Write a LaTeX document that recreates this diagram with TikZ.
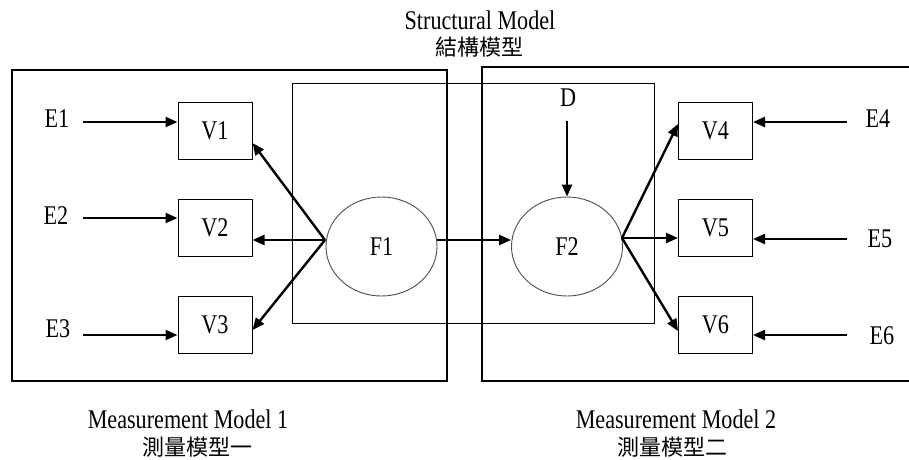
\documentclass[tikz,border=0pt]{standalone}
\usepackage{fontspec}
\setmainfont{Liberation Serif}[FakeStretch=0.82]
\newfontfamily\cjk{Noto Sans CJK TC}
\usetikzlibrary{arrows.meta,shapes.geometric}
\begin{document}
\begin{tikzpicture}[x=1pt,y=-1pt,
  lbl/.style={font=\fontsize{27}{30}\selectfont, inner sep=0pt},
  cjklbl/.style={font=\cjk\fontsize{22}{25}\selectfont, inner sep=0pt},
  vbox/.style={draw, line width=1pt, minimum width=74pt, minimum height=57pt, inner sep=0pt, font=\fontsize{27}{30}\selectfont},
  latent/.style={draw=black!70, line width=0.9pt, ellipse, minimum width=111pt, minimum height=99pt, inner sep=0pt, font=\fontsize{27}{30}\selectfont},
  arr/.style={line width=2.4pt, -{Triangle[length=12pt,width=10pt]}},
  frame/.style={line width=2.8pt},
  thinframe/.style={line width=1pt}]
\useasboundingbox (0,0) rectangle (909,459);
% frames
\draw[frame] (12,70) rectangle (447,381);
\draw[frame] (912,67) -- (482,67) -- (482,381) -- (912,381);
\draw[thinframe] (292,83) rectangle (654,323);
% titles
\node[lbl] (st) at (480,20) {Structural Model};
\node[cjklbl] (stc) at (479,47) {結構模型};
\node[lbl] (m1) at (188,419) {Measurement Model 1};
\node[cjklbl] (m1c) at (197,447) {測量模型一};
\node[lbl] (m2) at (676,419) {Measurement Model 2};
\node[cjklbl] (m2c) at (672,447) {測量模型二};
% observed variables
\node[vbox] (V1) at (215,130.5) {V1};
\node[vbox] (V2) at (215,228) {V2};
\node[vbox] (V3) at (215,325) {V3};
\node[vbox] (V4) at (715.5,130.5) {V4};
\node[vbox] (V5) at (715.5,228) {V5};
\node[vbox] (V6) at (715.5,325) {V6};
% latent
\node[latent] (F1) at (381.5,246.5) {F1};
\node[latent] (F2) at (567,246.5) {F2};
% error labels
\node[lbl] (E1) at (57,119) {E1};
\node[lbl] (E2) at (56,216) {E2};
\node[lbl] (E3) at (58,329) {E3};
\node[lbl] (E4) at (878,119) {E4};
\node[lbl] (E5) at (880,239) {E5};
\node[lbl] (E6) at (882,336) {E6};
\node[lbl] (D) at (568,98) {D};
% arrow start points
\coordinate (e1s) at (83,122);
\coordinate (e2s) at (83,218);
\coordinate (e3s) at (83,335);
\coordinate (e4s) at (847,122);
\coordinate (e5s) at (847,239);
\coordinate (e6s) at (847,335);
\coordinate (f1o) at (325,240);
\coordinate (f2o) at (622,238);
\coordinate (ds) at (567,121);
% E -> V
\draw[arr] (e1s) -- (e1s -| V1.west);
\draw[arr] (e2s) -- (e2s -| V2.west);
\draw[arr] (e3s) -- (e3s -| V3.west);
\draw[arr] (e4s) -- (e4s -| V4.east);
\draw[arr] (e5s) -- (e5s -| V5.east);
\draw[arr] (e6s) -- (e6s -| V6.east);
% F1 -> V1..V3
\draw[arr] (f1o) -- (V1.east |- 0,143);
\draw[arr] (f1o) -- (V2.east |- f1o);
\draw[arr] (f1o) -- (V3.east |- 0,330);
% F2 -> V4..V6
\draw[arr] (f2o) -- (V4.west |- 0,124);
\draw[arr] (f2o) -- (V5.west |- f2o);
\draw[arr] (f2o) -- (V6.west |- 0,331);
% structural
\draw[arr] (F1.east |- f1o) -- (F2.west |- f1o);
\draw[arr] (ds) -- (F2.north);
\end{tikzpicture}
\end{document}
